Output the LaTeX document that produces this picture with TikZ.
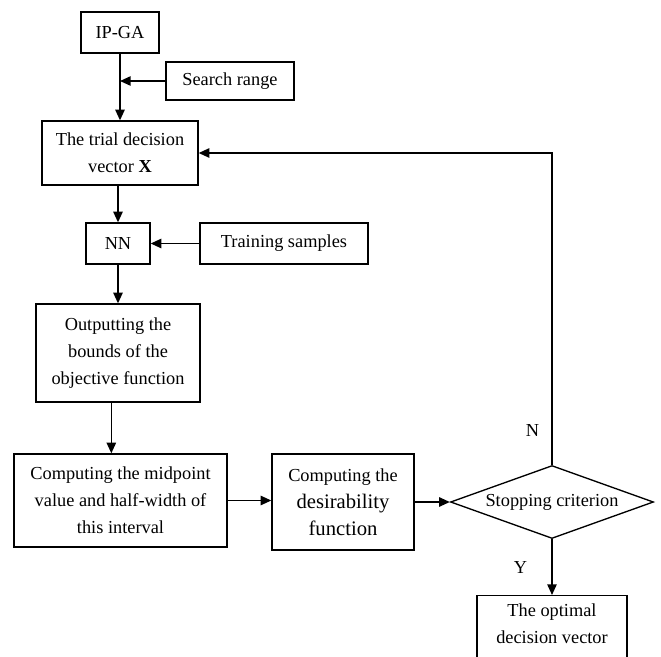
\documentclass[tikz,border=0pt]{standalone}
\usepackage{fontspec}
\setmainfont{Liberation Serif}
\newfontfamily\desirfont[Scale=1.127]{Liberation Serif}
\usetikzlibrary{arrows.meta,shapes.geometric}
\newcommand\bigword[1]{{\desirfont #1}}

\begin{document}
\begin{tikzpicture}[x=0.75pt,y=-0.75pt,>={Triangle[length=8pt,width=7pt]},
  every node/.style={font=\fontsize{13.75}{20.25}\selectfont},
  block/.style={draw,line width=1pt,align=center,inner sep=0pt},
  decision/.style={draw,line width=1pt,diamond,aspect=2.78,inner sep=0pt,
    minimum width=152.25pt,minimum height=54.75pt},
  flow/.style={->,line width=1.2pt},
  flag/.style={inner sep=0pt}]
  \useasboundingbox (0,0) rectangle (661,657);
  \clip (0,0) rectangle (661,657);
  \node[block,minimum width=58.5pt,minimum height=30.75pt] (ipga) at (120,32.5) {IP-GA};
  \node[block,minimum width=96pt,minimum height=28.5pt] (search) at (230,81) {Search range};
  \node[block,minimum width=117pt,minimum height=48pt] (trial) at (120,153)
    {The trial decision\\vector \textbf{X}};
  \node[block,minimum width=48pt,minimum height=30.75pt] (nn) at (118,243.5) {NN};
  \node[block,minimum width=126pt,minimum height=30.75pt] (train) at (284,243.5) {Training samples};
  \node[block,minimum width=123pt,minimum height=73.5pt] (output) at (118,353)
    {Outputting the\\bounds of the\\objective function};
  \node[block,minimum width=159.75pt,minimum height=69.75pt] (midpt) at (120.5,500.5)
    {Computing the midpoint\\value and half-width of\\this interval};
  \node[block,minimum width=106.5pt,minimum height=72pt] (desir) at (343,502)
    {Computing the\\\bigword{desirability}\\\bigword{function}};
  \node[decision] (stop) at (552,502) {Stopping criterion};
  \node[block,minimum width=112.5pt,inner ysep=6pt,anchor=north] (optimal) at (552,595)
    {The optimal\\decision vector\\\mbox{}};
  % main flow
  \draw[flow] (ipga) -- (trial);
  \draw[flow] (search.west) -- (search.west -| ipga.south);
  \draw[flow] (trial.south -| nn.north) -- (nn.north);
  \draw[flow] (train.west) -- (nn.east);
  \draw[flow] (nn.south) -- (nn.south |- output.north);
  \draw[flow] ([xshift=-5]output.south) -- ([xshift=-5]output.south |- midpt.north);
  \draw[flow] (midpt.east) -- (midpt.east -| desir.west);
  \draw[flow] (desir) -- (stop);
  % decision branches
  \draw[flow] (stop.north) |- (trial.east) node[flag,pos=0.055,left=9pt] {N};
  \draw[flow] (stop.south) -- (optimal.north) node[flag,midway,left=18pt] {Y};
\end{tikzpicture}
\end{document}
